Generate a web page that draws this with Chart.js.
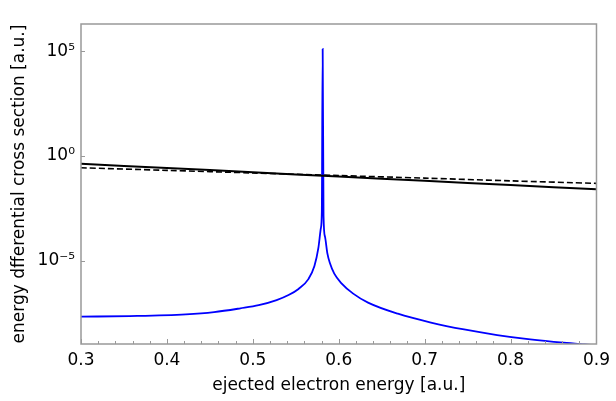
<!DOCTYPE html>
<html>
<head>
<meta charset="utf-8">
<script src="https://cdn.jsdelivr.net/npm/chart.js@4"></script>
<style>
  html, body { margin: 0; padding: 0; background: #fff; }
  #wrap { width: 616px; height: 401px; }
</style>
</head>
<body>
<div id="wrap"><canvas id="xsection"></canvas></div>
<script>
// solid and dashed curves (black)
var xBlack = [0.3, 0.4, 0.5, 0.6, 0.7, 0.8, 0.9];
var solidY = [0.43, 0.27, 0.17, 0.105, 0.066, 0.042, 0.026];
var dashedY = [0.277, 0.209, 0.157, 0.118, 0.089, 0.066, 0.05];

// resonance curve (blue)
var xBlue = [0.30, 0.3566, 0.422, 0.4549, 0.4855, 0.5069, 0.5277, 0.5416, 0.5532, 0.5647, 0.5717, 0.5763, 0.5792, 0.5803,
             0.5813,
             0.5823, 0.5840, 0.5867, 0.5898, 0.5948, 0.6032, 0.6168, 0.6341, 0.6688, 0.7073, 0.7459, 0.7844, 0.8229, 0.8615, 0.8861, 0.9];
var blueY = [2.24e-8, 2.4e-8, 2.9e-8, 3.7e-8, 5.6e-8, 7.9e-8, 1.38e-7, 2.4e-7, 4.7e-7, 1.38e-6, 5.8e-6, 4.2e-5, 3.7e-4, 2.1e-3,
             1.26e5,
             1.4e-3, 1.45e-4, 2.4e-5, 7.8e-6, 2.5e-6, 8.7e-7, 2.8e-7, 1.05e-7, 3.1e-8, 1.18e-8, 5.5e-9, 3.0e-9, 1.86e-9, 1.29e-9, 1.07e-9, 9.7e-10];

var xTicks = [0.3, 0.4, 0.5, 0.6, 0.7, 0.8, 0.9];
var yTicks = [1e-5, 1, 1e5];
var yTickLabels = ["10\u207B\u2075", "10\u2070", "10\u2075"];

function pts(xs, ys) {
  return xs.map(function (x, i) { return { x: x, y: ys[i] }; });
}

// frame + inward tick marks
var framePlugin = {
  id: 'frame',
  afterDraw: function (chart) {
    var ctx = chart.ctx, a = chart.chartArea;
    var xs = chart.scales.x, ys = chart.scales.y;
    ctx.save();
    ctx.strokeStyle = '#999';
    ctx.lineWidth = 1.5;
    ctx.strokeRect(a.left, a.top, a.right - a.left, a.bottom - a.top);
    ctx.lineWidth = 1;
    ctx.beginPath();
    for (var i = 0; i <= 30; i++) {
      var v = 0.3 + i * 0.02;
      var px = Math.round(xs.getPixelForValue(v)) + 0.5;
      var len = (i % 5 === 0) ? 5 : 3;
      ctx.moveTo(px, a.bottom);
      ctx.lineTo(px, a.bottom - len);
    }
    yTicks.forEach(function (v) {
      var py = Math.round(ys.getPixelForValue(v)) + 0.5;
      ctx.moveTo(a.left, py);
      ctx.lineTo(a.left + 4, py);
    });
    ctx.stroke();
    ctx.restore();
  }
};

document.addEventListener("DOMContentLoaded", function () {
  var ctx = document.getElementById('xsection').getContext('2d');
  new Chart(ctx, {
    type: 'line',
    data: {
      datasets: [{
        label: 'solid',
        data: pts(xBlack, solidY),
        borderColor: '#000',
        borderWidth: 2,
        pointRadius: 0,
        tension: 0.3
      }, {
        label: 'dashed',
        data: pts(xBlack, dashedY),
        borderColor: '#000',
        borderWidth: 1.6,
        borderDash: [6, 3],
        pointRadius: 0,
        tension: 0.3
      }, {
        label: 'resonance',
        data: pts(xBlue, blueY),
        borderColor: '#0000ff',
        borderWidth: 1.8,
        pointRadius: 0,
        cubicInterpolationMode: 'monotone'
      }]
    },
    plugins: [framePlugin],
    options: {
      responsive: true,
      maintainAspectRatio: false,
      animation: false,
      layout: { padding: { top: 24, right: 16, left: 0, bottom: 0 } },
      plugins: { legend: { display: false }, tooltip: { enabled: false } },
      scales: {
        x: {
          type: 'linear',
          min: 0.3,
          max: 0.9,
          grid: { display: false, drawTicks: false },
          border: { display: false },
          afterBuildTicks: function (s) { s.ticks = xTicks.map(function (v) { return { value: v }; }); },
          afterFit: function (s) { s.height = 57; },
          ticks: {
            padding: 6,
            maxRotation: 0,
            color: '#000',
            font: { family: 'DejaVu Sans', size: 17 },
            callback: function (v) { return Number(v).toFixed(1); }
          },
          title: {
            display: true,
            text: 'ejected electron energy [a.u.]',
            color: '#000',
            font: { family: 'DejaVu Sans', size: 17 },
            padding: { top: 0, bottom: 5 }
          }
        },
        y: {
          type: 'logarithmic',
          min: 1.12e-9,
          max: 1.95e6,
          grid: { display: false, drawTicks: false },
          border: { display: false },
          afterBuildTicks: function (s) { s.ticks = yTicks.map(function (v) { return { value: v }; }); },
          afterFit: function (s) { s.width = 81; },
          ticks: {
            padding: 6,
            color: '#000',
            font: { family: 'DejaVu Sans', size: 17 },
            callback: function (v) { var i = yTicks.indexOf(v); return i >= 0 ? yTickLabels[i] : ''; }
          },
          title: {
            display: true,
            text: 'energy dfferential cross section [a.u.]',
            color: '#000',
            font: { family: 'DejaVu Sans', size: 17 },
            padding: { top: 9, bottom: 0 }
          }
        }
      }
    }
  });
});
</script>
</body>
</html>
